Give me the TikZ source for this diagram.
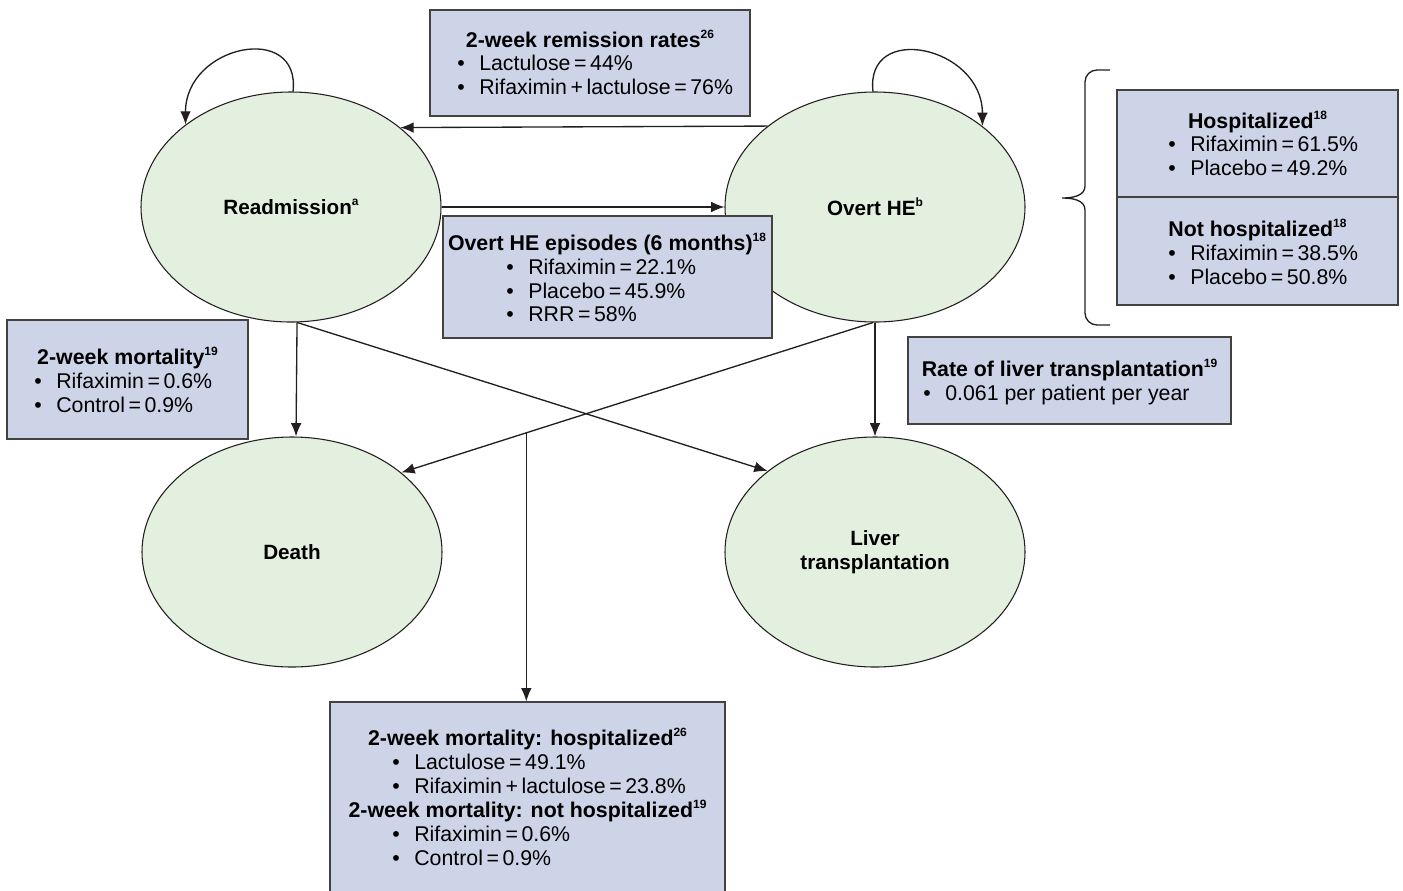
\documentclass[tikz,border=0pt]{standalone}
\usepackage{fontspec}
\setmainfont{Liberation Sans}
\usetikzlibrary{arrows.meta,calc,shapes.geometric}
\definecolor{boxfill}{RGB}{206,212,232}
\definecolor{ellfill}{RGB}{227,239,223}
\definecolor{ink}{RGB}{35,31,32}
\newcommand\rsup[1]{\raisebox{0.42em}{\fontsize{9}{9}\selectfont\bfseries #1}}
\newcommand\bl[3]{\node[itm] at (#1-22,#2) {\textbullet}; \node[itm] at (#1,#2) {#3};}
\begin{document}
\begin{tikzpicture}[x=0.75pt,y=-0.75pt,
  stateN/.style={ellipse,draw=ink,line width=0.8pt,fill=ellfill,minimum width=225pt,minimum height=172.5pt,inner sep=0pt,align=center,font=\bfseries\fontsize{15.5}{18}\selectfont},
  infobox/.style={rectangle,draw=ink!85,line width=0.8pt,fill=boxfill,inner sep=0pt},
  ttl/.style={inner sep=0pt,anchor=base,font=\bfseries\fontsize{16}{18}\selectfont},
  itm/.style={inner sep=0pt,anchor=base west,font=\fontsize{16}{18}\selectfont},
  arr/.style={draw=ink,line width=1pt,-{Latex[length=10pt,width=8pt]}},
  brc/.style={draw=ink,line width=1pt}]
\useasboundingbox (0,0) rectangle (1403,890);

% states
\node[stateN] (re) at (291,207) {Readmission\rsup{a}};
\node[stateN] (ov) at (875,207) {Overt HE\rsup{b}};
\node[stateN] (de) at (292,552) {Death};
\node[stateN] (lt) at (875,552) {Liver\\transplantation};

% connectors
\draw[arr] (re.89) .. controls +(8,-70) and +(0,-80) .. (re.142.6);
\draw[arr] (ov.91) .. controls +(-8,-70) and +(0,-80) .. (ov.37.2);
\draw[arr] (ov.143.5) -- (re.36.5);
\draw[arr] (re.east) -- (ov.west);
\draw[arr] (re.-87.5) -- (de.88);
\draw[arr] (ov.south) -- (lt.north);
\draw[arr] (re.-87.5) -- (lt.143.5);
\draw[arr] (ov.-91.5) -- (de.36);
\path (ov.-91.5) -- (de.36) coordinate[pos=0.735] (j);

% boxes
\node[infobox,minimum width=240pt,minimum height=79.5pt] (b1) at (590,63) {};
\node[infobox,minimum width=246.75pt,minimum height=91.5pt] (b2) at (607.5,277) {};
\node[infobox,minimum width=210.75pt,minimum height=80.25pt] (b3) at (1257.5,143.5) {};
\node[infobox,minimum width=210.75pt,minimum height=81pt] (b4) at (1257.5,251) {};
\node[infobox,minimum width=180.75pt,minimum height=89.25pt] (b5) at (127.5,379.5) {};
\node[infobox,minimum width=242.25pt,minimum height=65.25pt] (b6) at (1069.5,380.5) {};
\node[infobox,minimum width=296.25pt,minimum height=148.5pt] (b7) at (527.5,801) {};

\draw[arr] (j) -- (j |- b7.north);

% brace
\draw[brc] (1110,70) -- (1097,70) to[out=180,in=90] (1085,82) -- (1085,186)
  to[out=-90,in=0] (1062,198) to[out=0,in=90] (1085,210) -- (1085,313)
  to[out=-90,in=180] (1097,325) -- (1110,325);

% texts
\node[ttl] at (590,47) {2-week remission rates\rsup{26}};
\bl{479}{70}{Lactulose\,=\,44\%}
\bl{479}{94}{Rifaximin\,+\,lactulose\,=\,76\%}

\node[ttl] at (607,250) {Overt HE episodes (6 months)\rsup{18}};
\bl{528}{274}{Rifaximin\,=\,22.1\%}
\bl{528}{298}{Placebo\,=\,45.9\%}
\bl{528}{321}{RRR\,=\,58\%}

\node[ttl] at (1257.5,128) {Hospitalized\rsup{18}};
\bl{1190}{151}{Rifaximin\,=\,61.5\%}
\bl{1190}{175}{Placebo\,=\,49.2\%}
\node[ttl] at (1257.5,236) {Not hospitalized\rsup{18}};
\bl{1190}{260}{Rifaximin\,=\,38.5\%}
\bl{1190}{284}{Placebo\,=\,50.8\%}

\node[ttl] at (127.5,364) {2-week mortality\rsup{19}};
\bl{56}{388}{Rifaximin\,=\,0.6\%}
\bl{56}{412}{Control\,=\,0.9\%}

\node[ttl] at (1069.5,376) {Rate of liver transplantation\rsup{19}};
\bl{945}{400}{0.061 per patient per year}

\node[ttl] at (527.5,745) {2-week mortality: hospitalized\rsup{26}};
\bl{414}{769}{Lactulose\,=\,49.1\%}
\bl{414}{793}{Rifaximin\,+\,lactulose\,=\,23.8\%}
\node[ttl] at (527.5,817) {2-week mortality: not hospitalized\rsup{19}};
\bl{414}{841}{Rifaximin\,=\,0.6\%}
\bl{414}{865}{Control\,=\,0.9\%}
\end{tikzpicture}
\end{document}
